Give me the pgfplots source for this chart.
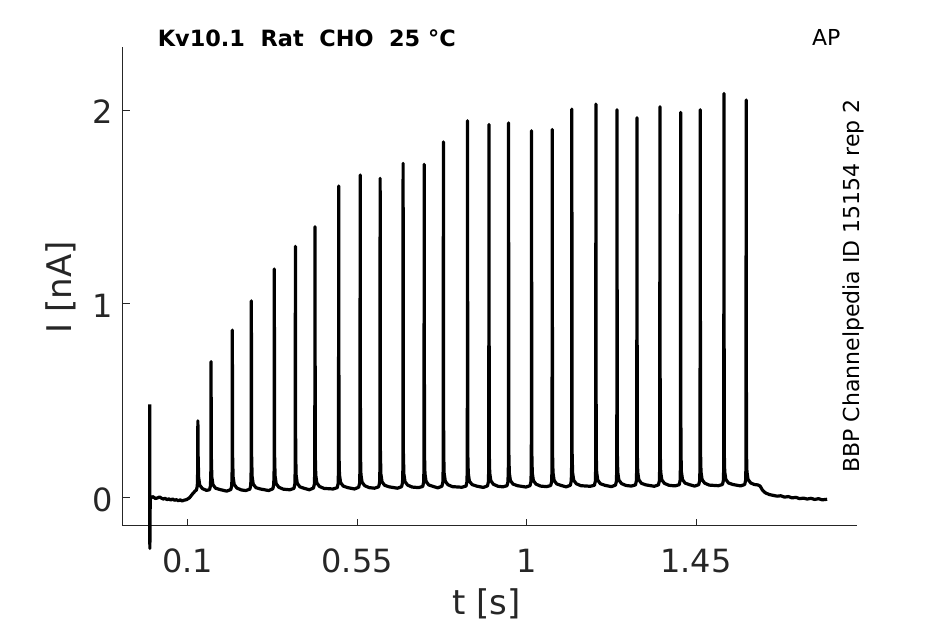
\documentclass[border=0pt]{standalone}
\usepackage{pgfplots}
\pgfplotsset{compat=1.18}
\usepackage{fontspec}
\setmainfont{DejaVu Sans}
\definecolor{axgray}{HTML}{262626}
\begin{document}
\begin{tikzpicture}
\path[use as bounding box] (0pt,0pt) rectangle (472.5pt,312pt);
\begin{axis}[
  at={(61.35pt,49.15pt)}, anchor=south west,
  scale only axis, width=366.9pt, height=239.5pt,
  xmin=-0.0726, xmax=1.876, ymin=-0.1444, ymax=2.327,
  axis x line*=bottom, axis y line*=left,
  axis line style={axgray, line width=0.5pt},
  xtick={0.1,0.55,1,1.45}, ytick={0,1,2},
  tick align=inside, major tick length=3.5pt,
  tick style={axgray, line width=0.5pt},
  /pgf/number format/assume math mode=true,
  ticklabel style={font=\fontsize{16}{19}\selectfont, text=axgray},
  xticklabel style={anchor=base, yshift=-23.3pt},
  yticklabel style={anchor=east, xshift=-1.4pt, yshift=-1pt},
  clip=false,
]
\addplot[black, line width=1.6pt, line join=round] coordinates {
(-0.0010,0.482) (-0.0005,-0.262) (0.0005,0.000)
(0.003,-0.002) (0.006,0.006) (0.010,0.002) (0.014,-0.004) (0.020,-0.001) (0.025,0.004) (0.030,-0.002) (0.035,-0.007) (0.040,-0.003) (0.045,-0.010) (0.050,-0.006)
(0.055,-0.012) (0.060,-0.007) (0.065,-0.013) (0.070,-0.010) (0.075,-0.016) (0.080,-0.011) (0.085,-0.017) (0.090,-0.013) (0.097,-0.010) (0.105,0.000)
(0.113,0.020) (0.120,0.035)
(0.1230,0.039) (0.1255,0.060) (0.1265,0.135) (0.1270,0.397) (0.1277,0.215) (0.1290,0.105) (0.1320,0.065) (0.1390,0.047) (0.1500,0.038)
(0.1580,0.041) (0.1605,0.062) (0.1615,0.137) (0.1620,0.702) (0.1627,0.217) (0.1640,0.107) (0.1670,0.067) (0.1740,0.049) (0.1860,0.042) (0.2035,0.034)
(0.2145,0.042) (0.2170,0.063) (0.2180,0.138) (0.2185,0.865) (0.2192,0.218) (0.2205,0.108) (0.2235,0.068) (0.2305,0.050) (0.2425,0.040) (0.2540,0.037)
(0.2650,0.044) (0.2675,0.065) (0.2685,0.140) (0.2690,1.016) (0.2697,0.220) (0.2710,0.110) (0.2740,0.070) (0.2810,0.052) (0.2930,0.045) (0.3150,0.037)
(0.3260,0.046) (0.3285,0.067) (0.3295,0.142) (0.3300,1.180) (0.3307,0.222) (0.3320,0.112) (0.3350,0.072) (0.3420,0.054) (0.3540,0.044) (0.3710,0.041)
(0.3820,0.048) (0.3845,0.069) (0.3855,0.144) (0.3860,1.297) (0.3867,0.224) (0.3880,0.114) (0.3910,0.074) (0.3980,0.056) (0.4100,0.048) (0.4230,0.041)
(0.4340,0.050) (0.4365,0.071) (0.4375,0.146) (0.4380,1.398) (0.4387,0.226) (0.4400,0.116) (0.4430,0.076) (0.4500,0.058) (0.4620,0.048) (0.4860,0.045)
(0.4970,0.052) (0.4995,0.073) (0.5005,0.148) (0.5010,1.608) (0.5017,0.228) (0.5030,0.118) (0.5060,0.078) (0.5130,0.060) (0.5250,0.052) (0.5430,0.045)
(0.5540,0.054) (0.5565,0.075) (0.5575,0.150) (0.5580,1.665) (0.5587,0.230) (0.5600,0.120) (0.5630,0.080) (0.5700,0.062) (0.5820,0.052) (0.5960,0.049)
(0.6070,0.056) (0.6095,0.077) (0.6105,0.152) (0.6110,1.648) (0.6117,0.232) (0.6130,0.122) (0.6160,0.082) (0.6230,0.064) (0.6350,0.056) (0.6570,0.049)
(0.6680,0.057) (0.6705,0.078) (0.6715,0.153) (0.6720,1.725) (0.6727,0.233) (0.6740,0.123) (0.6770,0.083) (0.6840,0.065) (0.6960,0.055) (0.7130,0.052)
(0.7240,0.058) (0.7265,0.079) (0.7275,0.154) (0.7280,1.720) (0.7287,0.234) (0.7300,0.124) (0.7330,0.084) (0.7400,0.066) (0.7520,0.058) (0.7640,0.051)
(0.7750,0.059) (0.7775,0.080) (0.7785,0.155) (0.7790,1.836) (0.7797,0.235) (0.7810,0.125) (0.7840,0.085) (0.7910,0.067) (0.8030,0.057) (0.8280,0.054)
(0.8390,0.060) (0.8415,0.081) (0.8425,0.156) (0.8430,1.945) (0.8437,0.236) (0.8450,0.126) (0.8480,0.086) (0.8550,0.068) (0.8670,0.060) (0.8850,0.053)
(0.8960,0.061) (0.8985,0.082) (0.8995,0.157) (0.9000,1.926) (0.9007,0.237) (0.9020,0.127) (0.9050,0.087) (0.9120,0.069) (0.9240,0.059) (0.9370,0.056)
(0.9480,0.062) (0.9505,0.083) (0.9515,0.158) (0.9520,1.934) (0.9527,0.238) (0.9540,0.128) (0.9570,0.088) (0.9640,0.070) (0.9760,0.062) (0.9980,0.055)
(1.0090,0.062) (1.0115,0.083) (1.0125,0.158) (1.0130,1.893) (1.0137,0.238) (1.0150,0.128) (1.0180,0.088) (1.0250,0.070) (1.0370,0.060) (1.0530,0.057)
(1.0640,0.063) (1.0665,0.084) (1.0675,0.159) (1.0680,1.900) (1.0687,0.239) (1.0700,0.129) (1.0730,0.089) (1.0800,0.071) (1.0920,0.063) (1.1050,0.056)
(1.1160,0.064) (1.1185,0.085) (1.1195,0.160) (1.1200,2.005) (1.1207,0.240) (1.1220,0.130) (1.1250,0.090) (1.1320,0.072) (1.1440,0.062) (1.1690,0.059)
(1.1800,0.064) (1.1825,0.085) (1.1835,0.160) (1.1840,2.031) (1.1847,0.240) (1.1860,0.130) (1.1890,0.090) (1.1960,0.072) (1.2080,0.064) (1.2250,0.057)
(1.2360,0.065) (1.2385,0.086) (1.2395,0.161) (1.2400,2.002) (1.2407,0.241) (1.2420,0.131) (1.2450,0.091) (1.2520,0.073) (1.2640,0.063) (1.2780,0.060)
(1.2890,0.066) (1.2915,0.087) (1.2925,0.162) (1.2930,1.960) (1.2937,0.242) (1.2950,0.132) (1.2980,0.092) (1.3050,0.074) (1.3170,0.066) (1.3390,0.059)
(1.3500,0.066) (1.3525,0.087) (1.3535,0.162) (1.3540,2.017) (1.3547,0.242) (1.3560,0.132) (1.3590,0.092) (1.3660,0.074) (1.3780,0.064) (1.3940,0.061)
(1.4050,0.067) (1.4075,0.088) (1.4085,0.163) (1.4090,1.988) (1.4097,0.243) (1.4110,0.133) (1.4140,0.093) (1.4210,0.075) (1.4330,0.067) (1.4460,0.060)
(1.4570,0.067) (1.4595,0.088) (1.4605,0.163) (1.4610,2.002) (1.4617,0.243) (1.4630,0.133) (1.4660,0.093) (1.4730,0.075) (1.4850,0.065) (1.5090,0.062)
(1.5200,0.068) (1.5225,0.089) (1.5235,0.164) (1.5240,2.086) (1.5247,0.244) (1.5260,0.134) (1.5290,0.094) (1.5360,0.076) (1.5480,0.068) (1.5680,0.061)
(1.5790,0.068) (1.5815,0.089) (1.5825,0.164) (1.5830,2.052) (1.5837,0.244) (1.5850,0.134) (1.5880,0.094) (1.5950,0.076)
(1.6050,0.068) (1.6140,0.066) (1.6200,0.060) (1.6260,0.040) (1.6340,0.025) (1.6450,0.016) (1.6550,0.012) (1.6650,0.008)
(1.6750,0.010) (1.6850,0.003) (1.6950,0.006) (1.7050,-0.001) (1.7150,0.002) (1.7250,-0.005) (1.7350,-0.002) (1.7450,-0.007)
(1.7550,-0.003) (1.7650,-0.009) (1.7750,-0.005) (1.7850,-0.011) (1.7980,-0.008)
};
\end{axis}
\node[anchor=base, inner sep=0pt, font=\fontsize{17}{20}\selectfont, text=axgray] at (243.25pt,4.7pt) {t [s]};
\node[anchor=base, rotate=90, inner sep=0pt, font=\fontsize{17}{20}\selectfont, text=axgray] at (35.85pt,168.25pt) {I [nA]};
\node[anchor=base west, inner sep=0pt, font=\bfseries\fontsize{11.2}{13}\selectfont] at (78.7pt,288.65pt) {Kv10.1~~Rat~~CHO~~25~°C};
\node[anchor=base west, inner sep=0pt, font=\fontsize{11}{13}\selectfont] at (405.8pt,289pt) {AP};
\node[anchor=base, rotate=90, inner sep=0pt, font=\fontsize{11}{13}\selectfont] at (429.6pt,169pt) {BBP Channelpedia ID 15154 rep 2};
\end{tikzpicture}
\end{document}
